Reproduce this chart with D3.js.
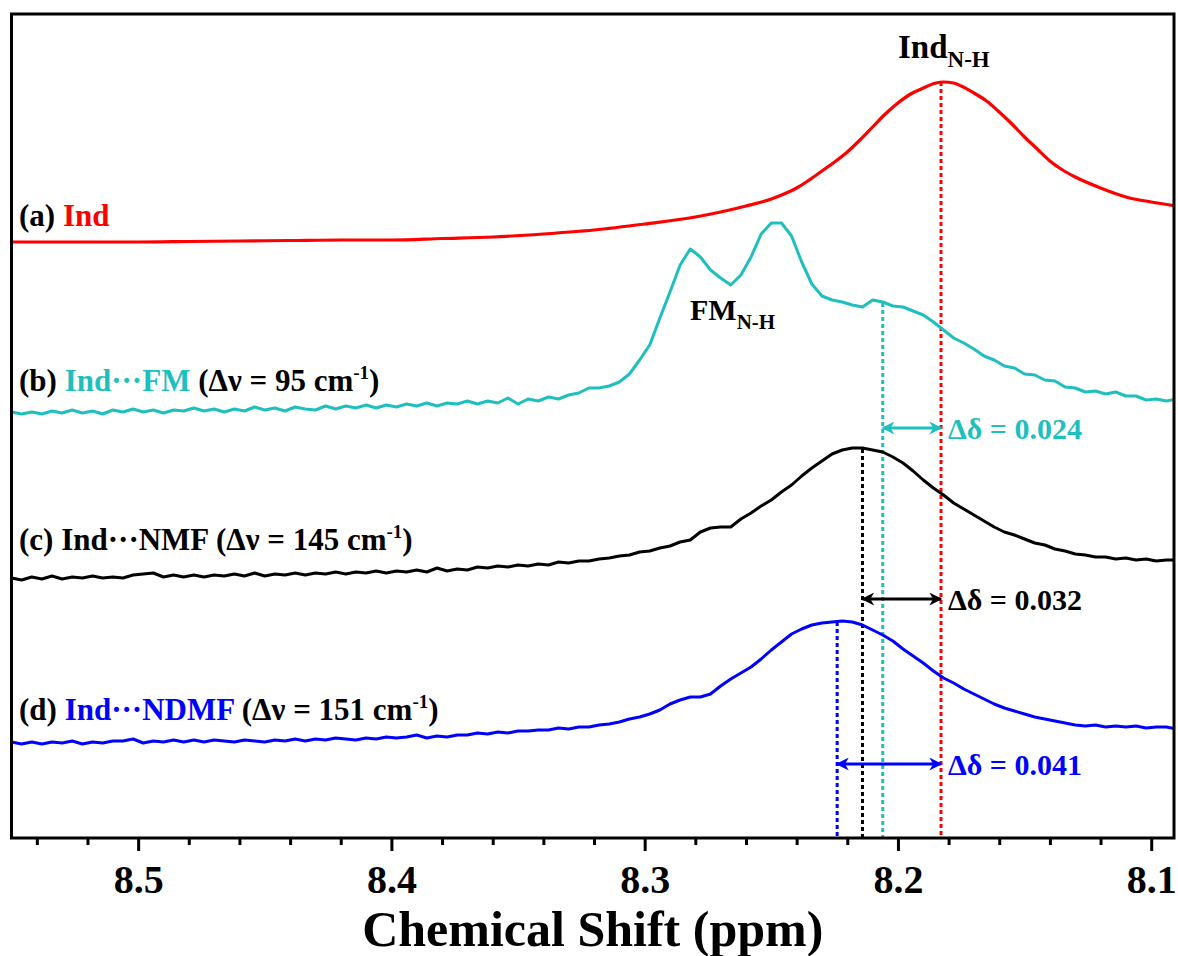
<!DOCTYPE html>
<html><head><meta charset="utf-8">
<script src="https://cdn.jsdelivr.net/npm/d3@7"></script>
<style>
body{margin:0;background:#fff}
svg{display:block}
text{font-family:"Liberation Serif","Times New Roman",serif;font-weight:bold}
</style>
</head><body>
<svg id="chart" width="1178" height="956"></svg>
<script>
// ---- data ----
const redPpm = [8.55,8.52,8.50,8.48,8.46,8.44,8.42,8.40,8.38,8.36,8.34,8.32,8.30,8.28,8.27,8.26,8.25,8.245,8.24,8.235,8.23,8.225,8.22,8.215,8.21,8.205,8.20,8.195,8.19,8.185,8.182,8.178,8.175,8.17,8.165,8.16,8.155,8.15,8.145,8.14,8.135,8.13,8.12,8.11,8.10,8.09];
const indInt = [596,596,596,596.5,597,597.5,598,598,599.5,601,604,608,614,621,626,632,639,644,650,658,667,676,686,698,711,724,735,744,750,755,756,755,752,745,737,726,714,701,689,677,668,661,650,641,636,632];

const gridPpm = [8.550,8.546,8.542,8.538,8.534,8.530,8.526,8.522,8.518,8.514,
8.510,8.506,8.502,8.498,8.494,8.490,8.486,8.482,8.478,8.474,
8.470,8.466,8.462,8.458,8.454,8.450,8.446,8.442,8.438,8.434,
8.430,8.426,8.422,8.418,8.414,8.410,8.406,8.402,8.398,8.394,
8.390,8.386,8.382,8.378,8.374,8.370,8.366,8.362,8.358,8.354,
8.350,8.346,8.342,8.338,8.334,8.330,8.326,8.322,8.318,8.314,
8.310,8.306,8.302,8.298,8.294,8.290,8.286,8.282,8.278,8.274,
8.270,8.266,8.262,8.258,8.254,8.250,8.246,8.242,8.238,8.234,
8.230,8.226,8.222,8.218,8.214,8.210,8.206,8.202,8.198,8.194,
8.190,8.186,8.182,8.178,8.174,8.170,8.166,8.162,8.158,8.154,
8.150,8.146,8.142,8.138,8.134,8.130,8.126,8.122,8.118,8.114,
8.110,8.106,8.102,8.098,8.094,8.090];

const fmInt = [426,424,426,424,427,425,428,425,427,424,
428,426,429,426,428,425,428,427,430,427,
429,426,429,427,431,428,430,427,431,429,
428,432,429,432,430,433,430,433,431,434,
432,435,432,435,434,437,434,437,435,440,
434,439,437,441,439,443,445,450,450,452,
456,464,478,493,520,546,573,589,581,568,
560,553,563,581,604,615,615,602,576,554,
542,538,536,533,531,538,536,532,531,527,
523,516,508,500,495,489,482,478,472,470,
464,463,458,457,451,450,446,447,444,446,
442,442,438,439,437,439];

const nmfInt = [260,258,261,259,262,259,261,260,262,260,
261,260,263,264,265,261,263,261,263,261,
263,262,264,262,265,262,264,263,265,263,
265,264,266,264,266,265,267,265,267,266,
268,266,270,267,269,268,271,270,272,271,
273,272,274,273,276,275,277,277,279,280,
282,283,286,287,290,292,296,298,306,310,
311,311,319,325,332,338,346,353,362,370,
377,384,388,390,390,388,386,381,375,367,
358,350,343,335,329,323,317,311,306,303,
299,295,293,289,287,284,283,281,281,279,
280,278,279,277,278,278];

const ndmfInt = [96,94,96,94,96,95,97,94,96,95,
97,97,99,95,97,96,98,96,98,96,
98,97,96,98,97,96,98,97,99,97,
99,98,100,99,98,100,99,101,100,101,
103,100,102,101,103,103,105,104,106,105,
107,107,108,108,110,109,111,111,113,114,
116,119,121,124,128,134,138,141,141,144,
152,159,165,171,179,188,196,204,209,213,
215,216,217,216,213,208,203,197,189,182,
175,167,160,155,149,144,139,134,130,127,
124,121,119,117,115,113,112,113,111,112,
111,112,110,111,111,109];

const majorTicks = [8.5,8.4,8.3,8.2,8.1];
const minorTicks = [8.54,8.52,8.48,8.46,8.44,8.42,8.38,8.36,8.34,8.32,8.28,8.26,8.24,8.22,8.18,8.16,8.14,8.12];

const peakPpm = [8.183,8.206,8.214,8.224];      // Ind, Ind···FM, Ind···NMF, Ind···NDMF
const peakTop = [756,535,389,216];
const deltaLabels = ["\u0394\u03B4 = 0.024","\u0394\u03B4 = 0.032","\u0394\u03B4 = 0.041"];
const arrowLevel = [410,239,74];

const RED="#ff0000", CYAN="#1fbfc0", BLUE="#0000ff", BLACK="#000000";
const seriesColors = [RED,CYAN,BLACK,BLUE];

// ---- layout ----
const L=11.5, R=1174, T=14, B=838;
const svg = d3.select("#chart");
const x = d3.scaleLinear().domain([8.55,8.091]).range([L,R]);
const y = d3.scaleLinear().domain([0,824]).range([B,T]);

svg.append("defs").append("clipPath").attr("id","clip")
  .append("rect").attr("x",L).attr("y",T).attr("width",R-L).attr("height",B-T);

const mk = (id,color)=>{
  svg.select("defs").append("marker").attr("id",id)
    .attr("viewBox","0 0 10 10").attr("refX",9).attr("refY",5)
    .attr("markerUnits","userSpaceOnUse").attr("markerWidth",15).attr("markerHeight",13)
    .attr("orient","auto-start-reverse")
    .append("path").attr("d","M0,0 L10,5 L0,10 L3,5 z").attr("fill",color);
};
mk("arC",CYAN); mk("arK",BLACK); mk("arB",BLUE);

const g = svg.append("g").attr("clip-path","url(#clip)");

// dashed guide lines
peakPpm.forEach((p,i)=>{
  g.append("line").attr("x1",x(p)).attr("x2",x(p)).attr("y1",y(peakTop[i])).attr("y2",y(0))
   .attr("stroke",seriesColors[i]).attr("stroke-width",3).attr("stroke-dasharray","4,3");
});

// spectra
const lineR = d3.line().x((d,i)=>x(redPpm[i])).y(d=>y(d)).curve(d3.curveMonotoneX);
g.append("path").attr("d",lineR(indInt)).attr("fill","none").attr("stroke",RED).attr("stroke-width",3.2);
const lineG = d3.line().x((d,i)=>x(gridPpm[i])).y(d=>y(d)).curve(d3.curveLinear);
[[fmInt,CYAN],[nmfInt,BLACK],[ndmfInt,BLUE]].forEach(([arr,c])=>{
  g.append("path").attr("d",lineG(arr)).attr("fill","none").attr("stroke",c)
   .attr("stroke-width",3).attr("stroke-linejoin","round");
});

// delta arrows
const arrowIds=["arC","arK","arB"], arrowCols=[CYAN,BLACK,BLUE];
[1,2,3].forEach((k,j)=>{
  const yy=y(arrowLevel[j]);
  svg.append("line").attr("x1",x(peakPpm[k])).attr("x2",x(peakPpm[0])).attr("y1",yy).attr("y2",yy)
    .attr("stroke",arrowCols[j]).attr("stroke-width",3)
    .attr("marker-start","url(#"+arrowIds[j]+")").attr("marker-end","url(#"+arrowIds[j]+")");
  svg.append("text").attr("x",x(peakPpm[0])+7).attr("y",yy+11).attr("font-size",30)
    .attr("fill",arrowCols[j]).text(deltaLabels[j]);
});

// frame
svg.append("rect").attr("x",L).attr("y",T).attr("width",R-L).attr("height",B-T)
  .attr("fill","none").attr("stroke","#000").attr("stroke-width",3);

// axes
const ax = svg.append("g").attr("transform",`translate(0,${B})`)
  .call(d3.axisBottom(x).tickValues(majorTicks).tickSize(13).tickPadding(14).tickFormat(d3.format(".1f")));
ax.select(".domain").remove();
ax.selectAll("line").attr("stroke","#000").attr("stroke-width",3);
ax.selectAll("text").attr("font-size",40).attr("fill","#000")
  .style("font-family",'"Liberation Serif","Times New Roman",serif').style("font-weight","bold");
const axm = svg.append("g").attr("transform",`translate(0,${B})`)
  .call(d3.axisBottom(x).tickValues(minorTicks).tickSize(7).tickFormat(""));
axm.select(".domain").remove();
axm.selectAll("line").attr("stroke","#000").attr("stroke-width",3);

svg.append("text").attr("x",(L+R)/2).attr("y",946).attr("text-anchor","middle")
  .attr("font-size",50).text("Chemical Shift (ppm)");

// sample labels
function label(yb, parts){
  const t = svg.append("text").attr("x",19).attr("y",yb).attr("font-size",31);
  parts.forEach(p=>{
    const s = t.append("tspan").attr("fill",p[1]).text(p[0]);
    if(p[2]==="sup") s.attr("font-size",19).attr("dy",-12);
    if(p[2]==="after") s.attr("dy",12);
  });
}
label(226,[["(a) ",BLACK],["Ind",RED]]);
label(391,[["(b) ",BLACK],["Ind\u00B7\u00B7\u00B7FM",CYAN],[" (\u0394\u03BD = 95 cm",BLACK],["-1",BLACK,"sup"],[")",BLACK,"after"]]);
label(550,[["(c) ",BLACK],["Ind\u00B7\u00B7\u00B7NMF",BLACK],[" (\u0394\u03BD = 145 cm",BLACK],["-1",BLACK,"sup"],[")",BLACK,"after"]]);
label(720,[["(d) ",BLACK],["Ind\u00B7\u00B7\u00B7NDMF",BLUE],[" (\u0394\u03BD = 151 cm",BLACK],["-1",BLACK,"sup"],[")",BLACK,"after"]]);

// peak labels
const t1 = svg.append("text").attr("x",898).attr("y",58).attr("font-size",33);
t1.append("tspan").text("Ind");
t1.append("tspan").attr("font-size",23).attr("dy",9).text("N-H");
const t2 = svg.append("text").attr("x",690).attr("y",320).attr("font-size",30);
t2.append("tspan").text("FM");
t2.append("tspan").attr("font-size",21).attr("dy",9).text("N-H");
</script>
</body></html>
